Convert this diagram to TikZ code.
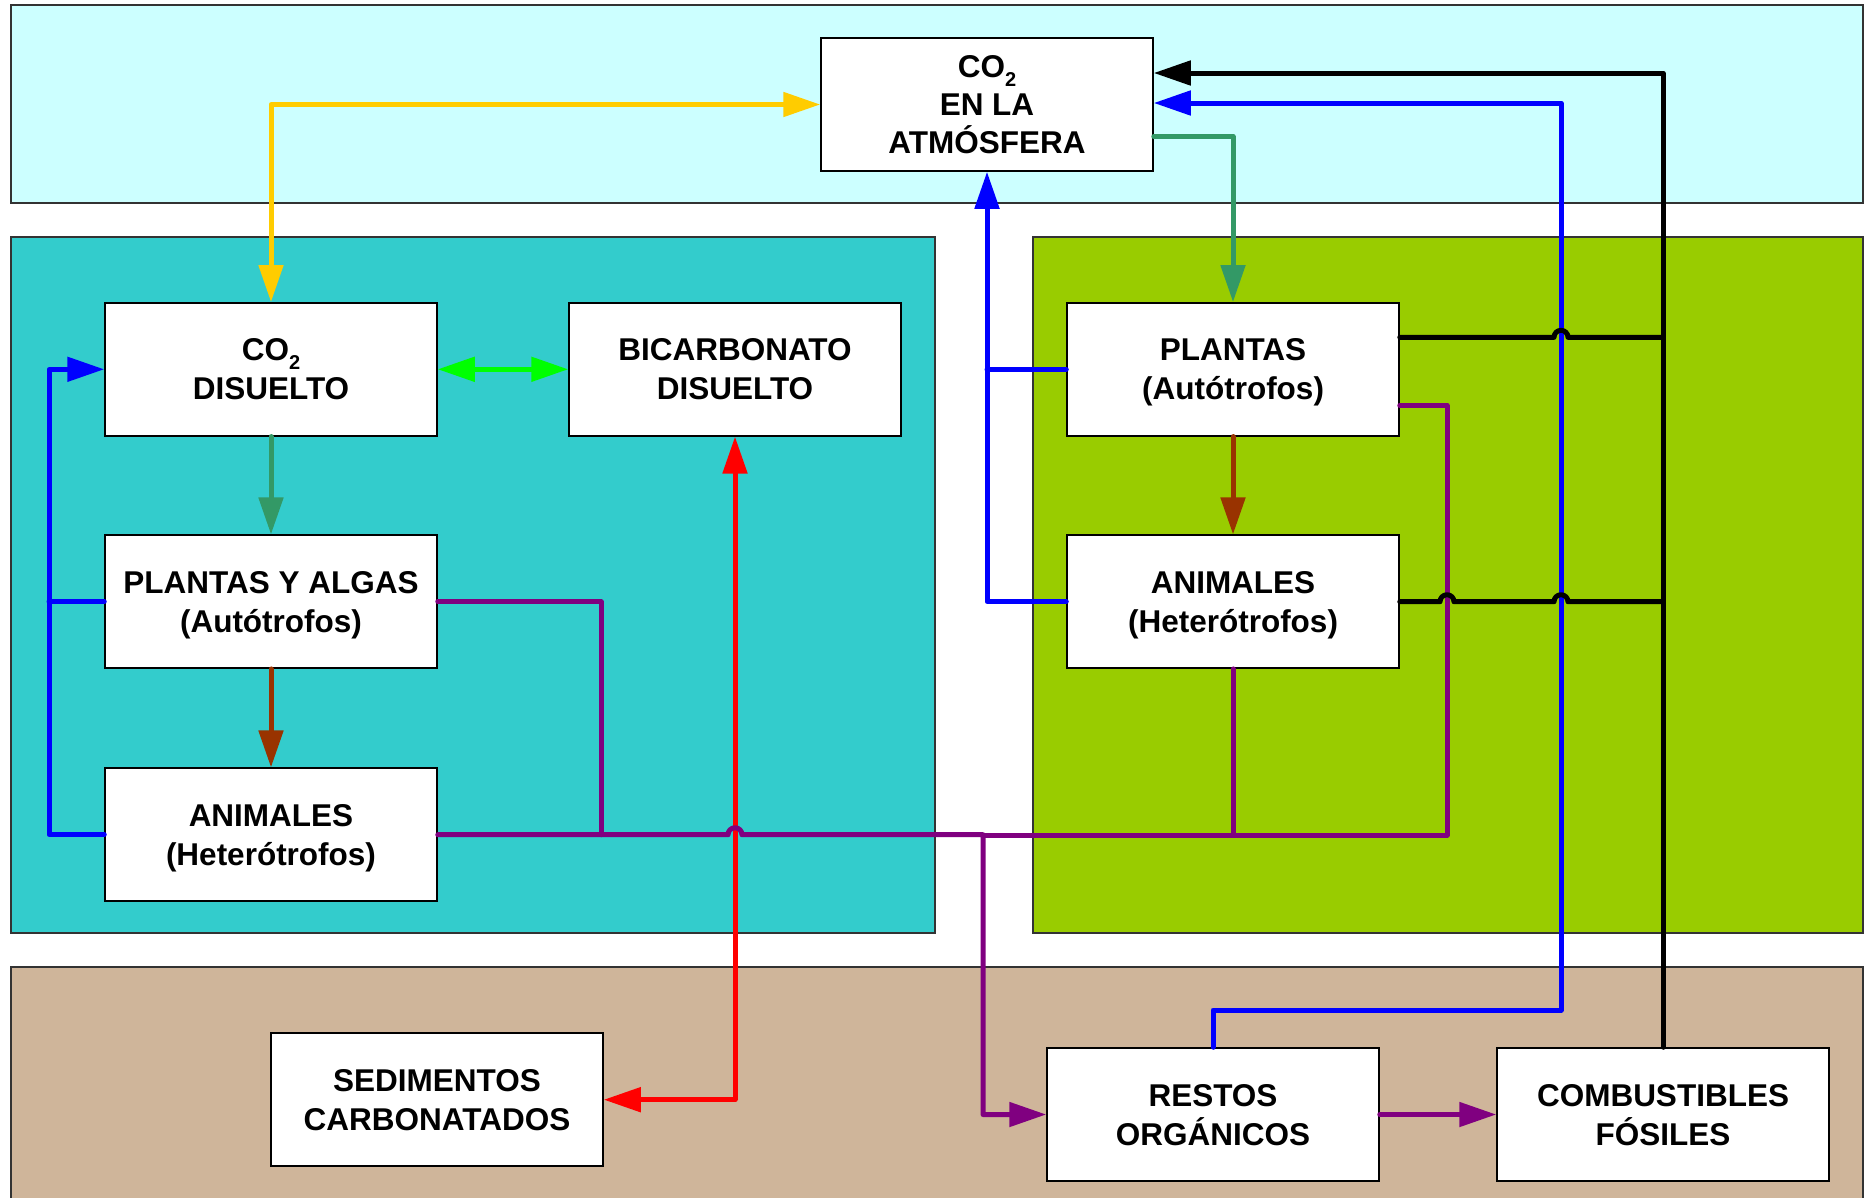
\documentclass[tikz,border=0pt]{standalone}
\usepackage{fontspec}
\setmainfont{Liberation Sans}
\usetikzlibrary{arrows.meta,calc}
\definecolor{skyband}{HTML}{CCFFFF}
\definecolor{tealpanel}{HTML}{33CCCC}
\definecolor{greenpanel}{HTML}{99CC00}
\definecolor{tanpanel}{RGB}{207,181,154}
\definecolor{yel}{HTML}{FFCC00}
\definecolor{dgreen}{HTML}{339966}
\definecolor{lgreen}{HTML}{00FF00}
\definecolor{brownl}{HTML}{993300}
\definecolor{bluel}{HTML}{0000FF}
\definecolor{redl}{HTML}{FF0000}
\definecolor{purp}{HTML}{800080}
\newcommand{\cosub}{CO\raisebox{-9pt}{\fontsize{20}{20}\selectfont 2}}
\begin{document}
\begin{tikzpicture}[x=1pt,y=-1pt,
  panel/.style={draw=black!80, line width=1.5pt},
  box/.style={draw=black, line width=1.5pt, fill=white, minimum width=332pt,
    minimum height=133pt, inner sep=0pt, align=center, text depth=0pt,
    font=\bfseries\fontsize{31.5}{39}\selectfont},
  conn/.style={line width=5pt, line join=round, line cap=round},
  arr/.style={-{Triangle[length=37pt,width=24pt]}},
  darr/.style={{Triangle[length=37pt,width=24pt]}-{Triangle[length=37pt,width=24pt]}}
]
\useasboundingbox (0,0) rectangle (1865,1197);
\fill[white] (0,0) rectangle (1865,1197);
% panels
\draw[panel, fill=skyband] (11,5) rectangle (1863,203);
\draw[panel, fill=tealpanel] (11,237) rectangle (935,933);
\draw[panel, fill=greenpanel] (1033,237) rectangle (1863,933);
\draw[panel, fill=tanpanel] (11,967) rectangle (1863,1215);
% boxes
\node[box, font=\bfseries\fontsize{31.5}{38}\selectfont] (atm) at (987,104.5) {\cosub\\EN LA\\ATMÓSFERA};
\node[box] (co2d) at (271,369.3) {\cosub\\DISUELTO};
\node[box] (bic) at (735,369.3) {BICARBONATO\\DISUELTO};
\node[box] (pya) at (271,601.7) {PLANTAS Y ALGAS\\(Autótrofos)};
\node[box] (animL) at (271,834.7) {ANIMALES\\(Heterótrofos)};
\node[box] (plan) at (1233,369.3) {PLANTAS\\(Autótrofos)};
\node[box] (animR) at (1233,601.7) {ANIMALES\\(Heterótrofos)};
\node[box] (sed) at (437,1099.7) {SEDIMENTOS\\CARBONATADOS};
\node[box] (rest) at (1213,1114.5) {RESTOS\\ORGÁNICOS};
\node[box] (comb) at (1663,1114.5) {COMBUSTIBLES\\FÓSILES};
% helper coordinates
\coordinate (lb) at (49,0);
\coordinate (pj) at (601,0);
\coordinate (pd) at (983,0);
\coordinate (pr) at (1447,0);
\coordinate (bv) at (1561,0);
\coordinate (bh) at (0,1010);
\coordinate (ph) at (0,835);
\coordinate (pe1) at ([yshift=32pt]plan.east);
\coordinate (pe2) at ([yshift=-36pt]plan.east);
\coordinate (ae1) at ([yshift=31.5pt]atm.east);
\coordinate (ae2) at ([yshift=1.5pt]atm.east);
\coordinate (ae3) at ([yshift=-32pt]atm.east);
% connectors
\draw[conn, yel, darr] (atm.west) -| (co2d.north);
\draw[conn, dgreen, arr] (ae3) -| (plan.north);
\draw[conn, lgreen, darr] (co2d.east) -- (bic.west);
\draw[conn, dgreen, arr] (co2d.south) -- (pya.north);
\draw[conn, brownl, arr] (pya.south) -- (animL.north);
\draw[conn, brownl, arr] (plan.south) -- (animR.north);
\draw[conn, redl, darr] (sed.east) -| (bic.south);
\draw[conn, bluel, arr] (rest.north) |- (bh -| bv) |- (ae2);
\draw[conn, bluel, arr] (animR.west) -| (atm.south);
\draw[conn, bluel] (plan.west) -- (plan.west -| atm.south);
\draw[conn, bluel, arr] (animL.west) -- (animL.west -| lb) |- (co2d.west);
\draw[conn, bluel] (pya.west) -- (pya.west -| lb);
\draw[conn, purp] (pya.east) -| (animL.east -| pj);
\draw[conn, purp] (pe2) -| (ph -| pr) -- (ph -| pd);
\draw[conn, purp] (animR.south) -- (animR.south |- ph);
\draw[conn, purp, arr] (animL.east) -- ($(animL.east -| bic.south)+(-7,0)$)
  arc[start angle=180, end angle=0, radius=7pt] -- (animL.east -| pd) |- (rest.west);
\draw[conn, purp, arr] (rest.east) -- (comb.west);
\draw[conn, black, arr] (comb.north) |- (ae1);
\draw[conn, black] (pe1) -- ($(pe1 -| bv)+(-7,0)$)
  arc[start angle=180, end angle=0, radius=7pt] -- (pe1 -| comb.north);
\draw[conn, black] (animR.east) -- ($(animR.east -| pr)+(-7,0)$)
  arc[start angle=180, end angle=0, radius=7pt] -- ($(animR.east -| bv)+(-7,0)$)
  arc[start angle=180, end angle=0, radius=7pt] -- (animR.east -| comb.north);
\end{tikzpicture}
\end{document}
